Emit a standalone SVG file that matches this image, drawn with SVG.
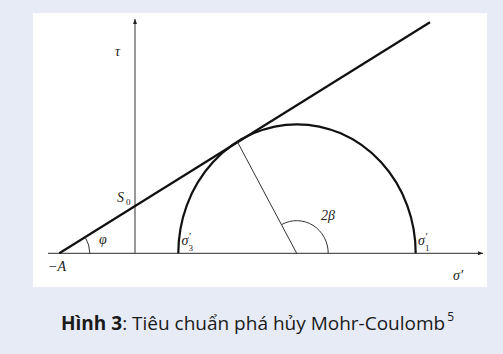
<svg xmlns="http://www.w3.org/2000/svg" width="503" height="354" viewBox="0 0 503 354">
<style>
.lbl{font-family:"Liberation Serif","DejaVu Serif",serif;font-style:italic;font-size:14px;fill:#222}
.sub{font-family:"Liberation Serif","DejaVu Serif",serif;font-size:9px;fill:#222}
.pr{font-family:"Liberation Serif","DejaVu Serif",serif;font-size:11px;fill:#222}
.axis{stroke:#555;stroke-width:1.2;fill:none}
.thick{stroke:#111;stroke-width:2.2;fill:none}
.thin{stroke:#333;stroke-width:1;fill:none}
.cap{font-family:"Open Sans","Noto Sans",sans-serif;font-size:19px;fill:#1a1a1a}
</style>
<defs>
<marker id="arr" viewBox="0 0 10 10" refX="10" refY="5" markerWidth="15" markerHeight="5" markerUnits="userSpaceOnUse" orient="auto">
<path d="M0,1 L10,5 L0,9 Z" fill="#222"/>
</marker>
</defs>
<rect width="503" height="354" fill="#e7ebf6"/>
<rect x="33" y="13" width="454" height="274" fill="#ffffff"/>
<g id="connectors">
<line class="axis" x1="48" y1="253.3" x2="483" y2="253.3" marker-end="url(#arr)"/>
<line class="axis" x1="135" y1="253.3" x2="135" y2="19" marker-end="url(#arr)"/>
<line class="thick" x1="59.3" y1="253.3" x2="430" y2="22.3"/>
<path class="thick" d="M178.3,253.3 A118.7,129 0 0 1 415.7,253.3"/>
<line class="thin" x1="296.7" y1="253.3" x2="237.3" y2="141.7"/>
<path class="thin" d="M89.8,253.3 A30.5,30.5 0 0 0 85.3,237.4"/>
<path class="thin" d="M328.2,253.3 A31.5,32.5 0 0 0 282,224.4"/>
</g>
<g id="labels">
<text class="lbl" x="115" y="56">τ</text>
<text class="lbl" x="117" y="202">S</text>
<text class="sub" x="126" y="205">0</text>
<text class="lbl" x="99" y="244">φ</text>
<text class="lbl" x="48" y="271">−A</text>
<text class="lbl" x="181.5" y="245">σ</text>
<text class="pr" x="189" y="239.5">′</text>
<text class="sub" x="188.5" y="250.5">3</text>
<text class="lbl" x="321" y="220" font-style="normal">2<tspan font-style="italic">β</tspan></text>
<text class="lbl" x="418" y="245">σ</text>
<text class="pr" x="425.5" y="239.5">′</text>
<text class="sub" x="425" y="250.5">1</text>
<text class="lbl" x="453" y="280">σ′</text>
</g>
<g id="caption">
<text class="cap" x="61" y="330"><tspan font-weight="bold">Hình 3</tspan>: Tiêu chuẩn phá hủy Mohr-Coulomb<tspan font-size="12px" dx="2" dy="-9">5</tspan></text>
</g>
</svg>
